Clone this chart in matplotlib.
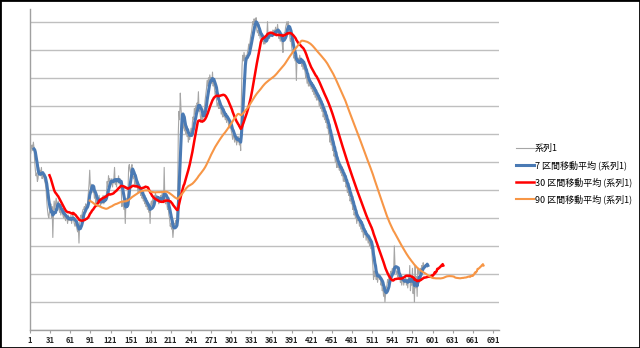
#%%
import numpy as np
import pandas as pd
from matplotlib import pyplot as plt
from matplotlib.patches import Rectangle

plt.rcParams['font.family'] = ['Noto Sans CJK JP', 'DejaVu Sans']

# %%
# raw series (系列1), x = 1..588
raw_a = [6.2, 6.3, 6.5, 6.6, 6.4, 6.7, 6.5, 6.0, 5.7, 5.5,
         5.6, 5.3, 5.4, 5.8, 5.6, 5.7, 5.5, 5.8, 5.4, 5.5,
         5.5, 5.4, 5.3, 5.2, 5.0, 4.6, 4.3, 4.1, 4.0, 4.2,
         4.3, 4.5, 4.0, 4.4, 3.3, 4.2, 4.6, 4.3, 4.5, 4.7,
         4.5, 4.3, 4.6, 4.4, 4.2, 4.3, 4.1, 4.3, 4.2, 4.1,
         4.0, 4.2, 4.0, 3.9, 4.1, 4.0, 3.8, 4.1, 3.9, 4.0,
         3.9, 4.1, 3.8, 4.0, 4.2, 3.9, 3.8, 3.7, 3.9, 3.7,
         3.6, 3.5, 3.7, 3.1, 3.8, 3.9, 4.1, 4.0, 4.2, 4.3,
         4.3, 4.4, 4.2, 4.5, 4.4, 4.4, 4.6, 4.9, 5.2, 5.7,
         5.1, 4.9, 5.2, 5.0, 4.9, 5.0, 4.7, 4.9, 4.5, 4.7]
raw_b = [4.4, 4.6, 4.5, 4.8, 4.6, 4.4, 4.7, 4.5, 4.6, 4.8,
         4.5, 4.7, 4.8, 4.6, 4.9, 5.3, 5.1, 5.5, 5.3, 5.4,
         5.3, 5.2, 5.4, 5.1, 5.3, 5.4, 5.8, 5.2, 5.3, 5.1,
         5.4, 5.3, 5.5, 5.2, 5.4, 5.3, 5.0, 4.4, 4.6, 4.5,
         4.3, 4.5, 3.8, 4.6, 4.7, 4.5, 4.9, 5.8, 5.9, 5.7,
         5.6, 5.8, 5.9, 5.5, 5.4, 5.5, 5.2, 5.3, 5.1, 5.3,
         5.1, 4.9, 5.2, 4.9, 5.0, 4.8, 4.9, 4.7, 4.8, 4.6,
         4.7, 4.5, 4.6, 4.4, 4.5, 4.3, 4.5, 4.2, 4.4, 3.8,
         4.5, 4.6, 4.4, 4.7, 4.5, 4.8, 4.6, 4.9, 4.7, 4.8,
         4.6, 4.7, 4.5, 4.7, 4.6, 4.8, 4.7, 4.9, 4.6, 4.6]
raw_c = [5.8, 4.6, 4.5, 4.7, 4.5, 4.3, 4.4, 4.1, 4.0, 3.7,
         3.8, 3.6, 3.7, 3.3, 3.6, 3.8, 3.7, 3.9, 3.8, 4.0,
         4.6, 7.0, 7.8, 7.5, 8.45, 7.9, 7.6, 7.5, 7.2, 7.4,
         7.1, 7.3, 7.0, 7.2, 6.9, 7.1, 6.7, 6.9, 6.8, 7.0,
         7.2, 6.9, 7.4, 7.6, 7.5, 7.9, 7.7, 8.0, 7.8, 8.1,
         8.0, 8.5, 7.8, 7.9, 7.6, 7.5, 7.7, 7.4, 7.6, 7.8,
         7.9, 8.2, 8.4, 8.6, 8.9, 8.7, 9.0, 8.8, 9.1, 8.9,
         9.0, 8.8, 9.2, 8.7, 8.9, 8.6, 8.4, 8.5, 8.2, 8.0,
         8.1, 7.9, 8.2, 7.9, 8.0, 7.7, 7.9, 7.6, 7.8, 7.6,
         7.7, 7.5, 7.7, 7.4, 7.6, 7.5, 7.3, 7.4, 7.2, 7.3]
raw_d = [7.1, 7.0, 6.8, 7.0, 6.9, 6.7, 6.9, 6.8, 6.6, 6.9,
         6.7, 6.9, 6.6, 6.8, 6.4, 8.2, 9.4, 9.8, 9.6, 9.9,
         9.7, 9.5, 9.8, 9.6, 9.9, 10.0, 10.2, 10.0, 10.3, 10.5,
         10.6, 10.8, 11.0, 10.9, 11.1, 11.0, 11.0, 11.14, 10.7, 10.6,
         10.7, 10.5, 10.6, 10.4, 10.6, 10.5, 10.3, 10.4, 10.2, 10.3,
         10.2, 10.4, 10.3, 10.5, 11.0, 10.4, 10.5, 10.4, 10.6, 10.5,
         10.6, 10.5, 10.7, 10.5, 10.7, 10.6, 10.8, 10.6, 10.7, 10.9,
         10.6, 10.4, 10.5, 10.3, 10.5, 10.4, 10.2, 9.9, 10.5, 10.6,
         10.6, 10.8, 10.9, 11.0, 10.8, 11.0, 10.7, 10.5, 10.3, 10.4,
         10.1, 9.9, 10.0, 9.7, 9.8, 9.6, 9.8, 8.9, 9.7, 9.6]
raw_e = [9.7, 9.5, 9.8, 9.6, 9.7, 9.4, 9.6, 9.3, 9.5, 9.3,
         9.2, 9.0, 9.1, 8.8, 9.0, 8.7, 8.9, 8.7, 8.8, 8.6,
         8.8, 8.5, 8.7, 8.4, 8.6, 8.3, 8.5, 8.2, 8.4, 8.2,
         8.3, 8.0, 8.2, 7.9, 8.1, 7.8, 8.0, 7.6, 7.8, 7.5,
         7.7, 7.4, 7.5, 7.2, 7.3, 7.0, 7.1, 6.7, 6.9, 6.6,
         6.7, 6.4, 6.5, 6.2, 6.3, 6.0, 6.2, 5.8, 6.0, 5.8,
         5.9, 5.7, 5.8, 5.6, 5.8, 5.5, 5.6, 5.3, 5.5, 5.3,
         5.4, 5.1, 5.2, 4.9, 5.1, 4.8, 4.9, 4.6, 4.7, 4.5,
         4.6, 4.3, 4.4, 4.1, 4.2, 4.0, 4.1, 3.8, 4.0, 3.9,
         4.0, 3.7, 3.9, 3.6, 3.8, 3.5, 3.6, 3.3, 3.5, 3.4]
raw_f = [3.5, 3.2, 3.4, 3.3, 3.1, 3.4, 3.0, 3.2, 2.9, 3.1,
         2.6, 2.3, 1.8, 2.1, 1.9, 2.2, 1.8, 2.0, 1.7, 1.9,
         2.0, 1.8, 1.9, 1.6, 1.7, 1.4, 1.5, 1.2, 1.4, 1.0,
         1.3, 1.5, 1.6, 1.8, 1.7, 1.9, 2.0, 1.9, 2.1, 2.0,
         2.2, 2.0, 2.1, 3.0, 2.3, 2.2, 2.0, 2.1, 1.9, 2.0,
         1.8, 2.0, 1.7, 1.8, 1.6, 1.8, 1.9, 1.6, 1.8, 1.7,
         1.9, 1.6, 1.8, 1.5, 1.9, 1.7, 2.3, 1.4, 1.8, 1.6,
         2.2, 1.3, 1.8, 1.0, 2.3, 1.5, 1.9, 1.2, 2.2, 2.0,
         2.1, 2.0, 2.2, 2.1, 2.3, 2.2, 2.4, 2.3]

windows = [7, 30, 90]
labels = ['系列1', '7 区間移動平均 (系列1)', '30 区間移動平均 (系列1)', '90 区間移動平均 (系列1)']
colors = ['#a6a6a6', '#4a7ab4', '#ff0000', '#f79646']
widths = [0.8, 2.2, 1.8, 1.5]
xticks = np.arange(1, 692, 30)

#%%
raw = pd.Series(raw_a + raw_b + raw_c + raw_d + raw_e + raw_f,
                index=np.arange(1, 589))
n_cat = 700

def trailing_ma(s, n):
    # excel style trendline: keeps averaging what is left after the data ends
    ext = s.reindex(np.arange(1, len(s) + n))
    ma = ext.rolling(n, min_periods=1).mean()
    ma[ma.index < n] = np.nan
    return ma

#%%
fig = plt.figure(figsize=(6.4, 3.48), dpi=100)
ax = fig.add_axes([30/640, 18/348, 469/640, 321/348])

ax.plot(raw.index, raw.values, color=colors[0], lw=widths[0], label=labels[0], zorder=2)
for n, lab, c, w in zip(windows, labels[1:], colors[1:], widths[1:]):
    ma = trailing_ma(raw, n)
    ax.plot(ma.index, ma.values, color=c, lw=w, label=lab, zorder=3)

ax.set_xlim(1, n_cat)
ax.set_ylim(0, 11.45)
ax.set_yticks(np.arange(0, 12))
ax.set_yticklabels([])
ax.tick_params(axis='y', length=0)
ax.grid(axis='y', color='#bfbfbf', lw=1)
ax.set_axisbelow(True)
ax.set_xticks(xticks)
ax.set_xticklabels([str(t) for t in xticks], fontsize=5.5, fontweight='bold', color='#262626')
ax.tick_params(axis='x', length=2, width=0.8, color='#a0a0a0', pad=2)
for s in ['top', 'right']:
    ax.spines[s].set_visible(False)
for s in ['left', 'bottom']:
    ax.spines[s].set_color('#a0a0a0')
    ax.spines[s].set_linewidth(1)

fig.legend(loc='upper left', bbox_to_anchor=(516/640, 1 - 144/348), frameon=False,
           fontsize=6.5, handlelength=2.0, handletextpad=0.1, labelspacing=0.82,
           borderpad=0, borderaxespad=0)

fig.patches.append(Rectangle((0, 0), 1, 1, transform=fig.transFigure, fill=False,
                             edgecolor='black', lw=2))
plt.savefig('out.png', dpi=100)
